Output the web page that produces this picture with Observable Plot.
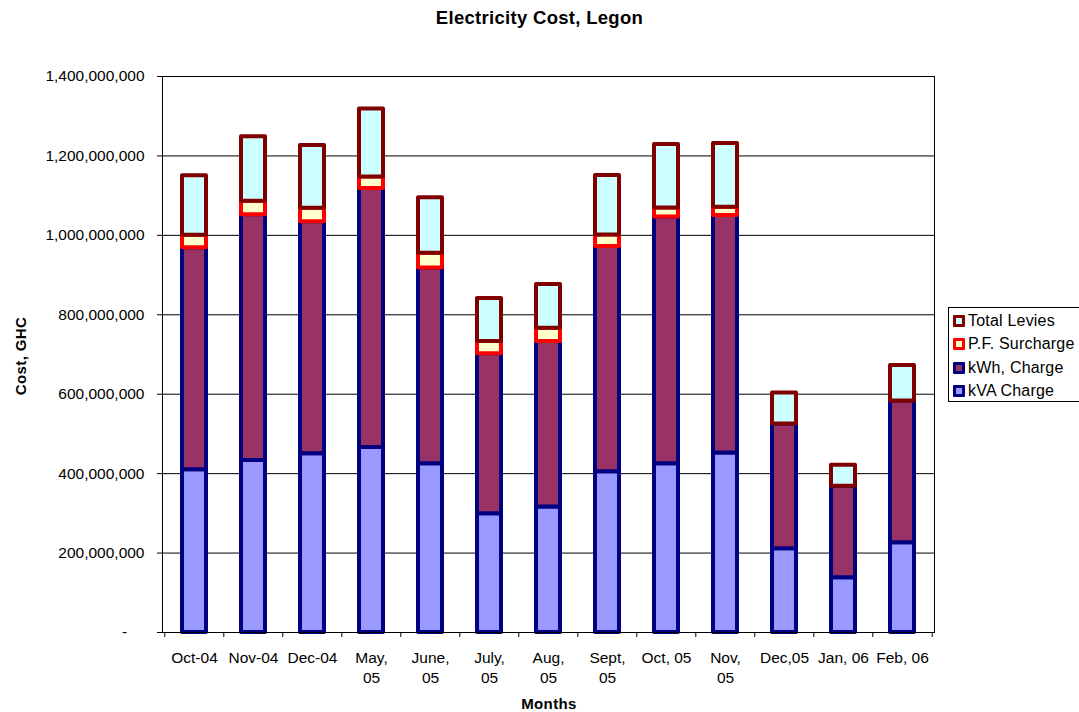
<!DOCTYPE html>
<html>
<head>
<meta charset="utf-8">
<script src="https://cdn.jsdelivr.net/npm/d3@7"></script>
<script src="https://cdn.jsdelivr.net/npm/@observablehq/plot@0.6"></script>
<style>
  html, body { margin: 0; padding: 0; background: #fff; }
  #wrap { position: relative; width: 1079px; height: 712px; font-family: "Liberation Sans", Arial, sans-serif; color: #000; }
  #chart { position: absolute; left: 0; top: 0; }
  .title { position: absolute; left: 0; width: 1079px; top: 7px; text-align: center; font-weight: bold; font-size: 18.5px; letter-spacing: 0.3px; }
  .ytitle { position: absolute; left: 20px; top: 356px; transform: translate(-50%, -50%) rotate(-90deg); font-weight: bold; font-size: 15px; white-space: nowrap; letter-spacing: 0.4px; }
  .xtitle { position: absolute; left: 549px; top: 703px; transform: translate(-50%, -50%); font-weight: bold; font-size: 15px; letter-spacing: 0.4px; }
  .legend { position: absolute; left: 948px; top: 307px; width: 134px; height: 95px; border: 1px solid #000; background: #fff; box-sizing: border-box; padding-top: 1px; }
  .item { display: flex; align-items: center; height: 23.5px; padding-left: 4px; font-size: 16px; white-space: nowrap; letter-spacing: 0.2px; }
  .sw { width: 12px; height: 12px; box-sizing: border-box; border-width: 3px; border-style: solid; margin-right: 3px; border-radius: 1px; flex: none; }
</style>
</head>
<body>
<div id="wrap">
  <div id="chart"></div>
  <div class="title">Electricity Cost, Legon</div>
  <div class="ytitle">Cost, GHC</div>
  <div class="xtitle">Months</div>
  <div class="legend" id="legend"></div>
</div>
<script>
// Categories (tick labels, with Excel's line wraps)
const months = ["Oct-04", "Nov-04", "Dec-04", "May,\n05", "June,\n05", "July,\n05", "Aug,\n05",
                "Sept,\n05", "Oct, 05", "Nov,\n05", "Dec,05", "Jan, 06", "Feb, 06"];

// Series values (GHC)
const kvaCharge     = [410e6, 433e6, 450e6, 466e6, 425e6, 299e6, 316e6, 405e6, 425e6, 452e6, 211e6, 138e6, 226e6];
const kwhCharge     = [559e6, 619e6, 584e6, 652e6, 493e6, 403e6, 417e6, 567e6, 621e6, 598e6, 314e6, 230e6, 357e6];
const pfSurcharge   = [31e6, 34e6, 34e6, 29e6, 37e6, 31e6, 33e6, 29e6, 23e6, 21e6, 0, 0, 0];
const totalLevies   = [150e6, 162e6, 158e6, 171e6, 140e6, 108e6, 110e6, 150e6, 160e6, 160e6, 78e6, 53e6, 89e6];

// Series names (stack order bottom to top)
const seriesNames = ["kVA Charge", "kWh, Charge", "P.F. Surcharge", "Total Levies"];
const yTicks = [0, 200e6, 400e6, 600e6, 800e6, 1000e6, 1200e6, 1400e6];

// Styles
const fills   = ["#9999FF", "#993366", "#FFFFCC", "#CCFFFF"];
const strokes = ["#000080", "#000080", "#FF0000", "#800000"];

const seriesValues = [kvaCharge, kwhCharge, pfSurcharge, totalLevies];
const rows = [];
seriesNames.forEach((s, si) => {
  months.forEach((m, mi) => {
    const v = seriesValues[si][mi];
    if (v > 0) rows.push({ month: m, series: s, si, value: v });
  });
});

const W = 1079, H = 712, mL = 162, mR = 145, mT = 76, mB = 80;
const step = (W - mL - mR) / months.length;
const fmt = d3.format(",");

const chart = Plot.plot({
  width: W, height: H,
  marginLeft: mL, marginRight: mR, marginTop: mT, marginBottom: mB,
  style: { fontFamily: "'Liberation Sans', Arial, sans-serif", fontSize: "15.5px", color: "#000", background: "transparent", overflow: "visible" },
  x: { domain: months, paddingInner: 0.6, paddingOuter: 0.3, label: null },
  y: { domain: [0, 1.4e9], label: null },
  color: { type: "identity" },
  marks: [
    Plot.gridY(yTicks, { stroke: "#000", strokeOpacity: 1, strokeWidth: 1 }),
    Plot.barY(rows, {
      x: "month", y: "value",
      fill: d => fills[d.si], stroke: d => strokes[d.si],
      strokeWidth: 4, strokeLinejoin: "round"
    }),
    Plot.frame({ stroke: "#000", strokeWidth: 1 }),
    Plot.axisY(yTicks, {
      tickSize: 5, tickPadding: 13, stroke: "#000",
      tickFormat: d => d === 0 ? "-\u00a0\u00a0\u00a0\u00a0" : fmt(d),
      fontSize: 15.5, label: null
    }),
    Plot.axisX({ tickSize: 0, tickPadding: 17, lineHeight: 1.25, fontSize: 15.5, label: null }),
    Plot.ruleX(months, { x: d => d, y1: 0, y2: 0, insetTop: 5, dx: -step / 2, stroke: "#000" }),
    Plot.ruleX(months.slice(-1), { x: d => d, y1: 0, y2: 0, insetTop: 5, dx: step / 2, stroke: "#000" })
  ]
});
document.getElementById("chart").appendChild(chart);

// Legend (top to bottom: reverse of stack order)
const legend = document.getElementById("legend");
[3, 2, 1, 0].forEach(i => {
  const it = document.createElement("div");
  it.className = "item";
  const sw = document.createElement("span");
  sw.className = "sw";
  sw.style.borderColor = strokes[i];
  sw.style.background = fills[i];
  const tx = document.createElement("span");
  tx.textContent = seriesNames[i];
  it.appendChild(sw); it.appendChild(tx);
  legend.appendChild(it);
});
</script>
</body>
</html>
